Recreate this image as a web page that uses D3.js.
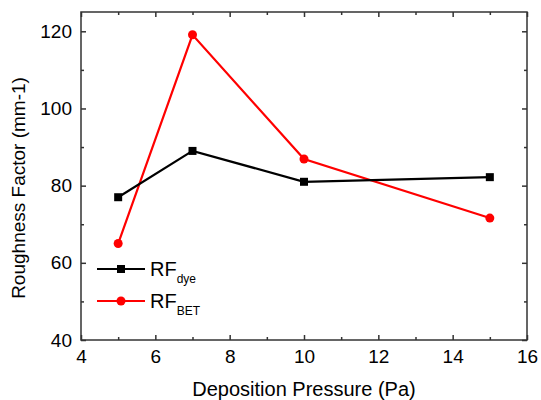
<!DOCTYPE html>
<html>
<head>
<meta charset="utf-8">
<script src="https://cdn.jsdelivr.net/npm/d3@7"></script>
<style>
  body { margin: 0; background: #fff; }
  text { font-family: "Liberation Sans", Arial, sans-serif; fill: #000; }
</style>
</head>
<body>
<svg id="chart" width="541" height="400"></svg>
<script>
// data
const pressure = [5, 7, 10, 15];
const rfDye = [77, 89, 81, 82.2];
const rfBet = [65, 119.1, 86.9, 71.6];

const xTicks = [4, 6, 8, 10, 12, 14, 16];
const yTicks = [40, 60, 80, 100, 120];

const margin = { top: 12, right: 14, bottom: 60, left: 81 };
const width = 541 - margin.left - margin.right;
const height = 400 - margin.top - margin.bottom;

const svg = d3.select("#chart");
const g = svg.append("g").attr("transform", `translate(${margin.left},${margin.top})`);

const x = d3.scaleLinear().domain([4, 16]).range([0, width]);
const y = d3.scaleLinear().domain([40, 125]).range([height, 0]);

const axisColor = "#333";

// minor ticks
const xMinor = d3.range(5, 16, 2);
const yMinor = d3.range(50, 125, 20);

function styleAxis(sel) {
  sel.select(".domain").remove();
  sel.selectAll(".tick line").attr("stroke", axisColor).attr("stroke-width", 1.5);
  sel.selectAll(".tick text").attr("font-size", 19);
}

// bottom axis (ticks inside)
g.append("g").attr("transform", `translate(0,${height})`)
  .call(d3.axisBottom(x).tickValues(xTicks).tickSizeInner(-5).tickSizeOuter(0).tickPadding(10))
  .call(styleAxis);
g.append("g").attr("transform", `translate(0,${height})`)
  .call(d3.axisBottom(x).tickValues(xMinor).tickSizeInner(-3).tickSizeOuter(0).tickFormat(""))
  .call(styleAxis);
// top mirror
g.append("g")
  .call(d3.axisTop(x).tickValues(xTicks).tickSizeInner(-5).tickSizeOuter(0).tickFormat(""))
  .call(styleAxis);
g.append("g")
  .call(d3.axisTop(x).tickValues(xMinor).tickSizeInner(-3).tickSizeOuter(0).tickFormat(""))
  .call(styleAxis);

// left axis
g.append("g")
  .call(d3.axisLeft(y).tickValues(yTicks).tickSizeInner(-5).tickSizeOuter(0).tickPadding(9))
  .call(styleAxis);
g.append("g")
  .call(d3.axisLeft(y).tickValues(yMinor).tickSizeInner(-3).tickSizeOuter(0).tickFormat(""))
  .call(styleAxis);
// right mirror
g.append("g").attr("transform", `translate(${width},0)`)
  .call(d3.axisRight(y).tickValues(yTicks).tickSizeInner(-5).tickSizeOuter(0).tickFormat(""))
  .call(styleAxis);
g.append("g").attr("transform", `translate(${width},0)`)
  .call(d3.axisRight(y).tickValues(yMinor).tickSizeInner(-3).tickSizeOuter(0).tickFormat(""))
  .call(styleAxis);

// frame
g.append("rect").attr("width", width).attr("height", height)
  .attr("fill", "none").attr("stroke", axisColor).attr("stroke-width", 1.5);

const line = d3.line().x(d => x(d[0])).y(d => y(d[1]));

// RF_BET (red)
const bet = pressure.map((p, i) => [p, rfBet[i]]);
g.append("path").datum(bet).attr("d", line)
  .attr("fill", "none").attr("stroke", "#f00").attr("stroke-width", 2.2);
g.selectAll(".bet").data(bet).join("circle")
  .attr("cx", d => x(d[0])).attr("cy", d => y(d[1])).attr("r", 4.5).attr("fill", "#f00");

// RF_dye (black)
const dye = pressure.map((p, i) => [p, rfDye[i]]);
g.append("path").datum(dye).attr("d", line)
  .attr("fill", "none").attr("stroke", "#000").attr("stroke-width", 2.2);
g.selectAll(".dye").data(dye).join("rect")
  .attr("x", d => x(d[0]) - 4).attr("y", d => y(d[1]) - 4)
  .attr("width", 8).attr("height", 8).attr("fill", "#000");

// legend
const legend = svg.append("g");
const items = [
  { sub: "dye", color: "#000", shape: "square", y: 269 },
  { sub: "BET", color: "#f00", shape: "circle", y: 301 }
];
items.forEach(it => {
  legend.append("line").attr("x1", 97).attr("x2", 145).attr("y1", it.y).attr("y2", it.y)
    .attr("stroke", it.color).attr("stroke-width", 2.2);
  if (it.shape === "square") {
    legend.append("rect").attr("x", 121 - 4).attr("y", it.y - 4).attr("width", 8).attr("height", 8).attr("fill", it.color);
  } else {
    legend.append("circle").attr("cx", 121).attr("cy", it.y).attr("r", 4.5).attr("fill", it.color);
  }
  const t = legend.append("text").attr("x", 150).attr("y", it.y + 7).attr("font-size", 20);
  t.append("tspan").text("RF");
  t.append("tspan").attr("font-size", 12).attr("dy", 7).text(it.sub);
});

// axis titles
svg.append("text").attr("x", margin.left + width / 2).attr("y", 396)
  .attr("text-anchor", "middle").attr("font-size", 20).text("Deposition Pressure (Pa)");
svg.append("text").attr("transform", `translate(25,188) rotate(-90)`)
  .attr("text-anchor", "middle").attr("font-size", 19).text("Roughness Factor (mm-1)");
</script>
</body>
</html>
